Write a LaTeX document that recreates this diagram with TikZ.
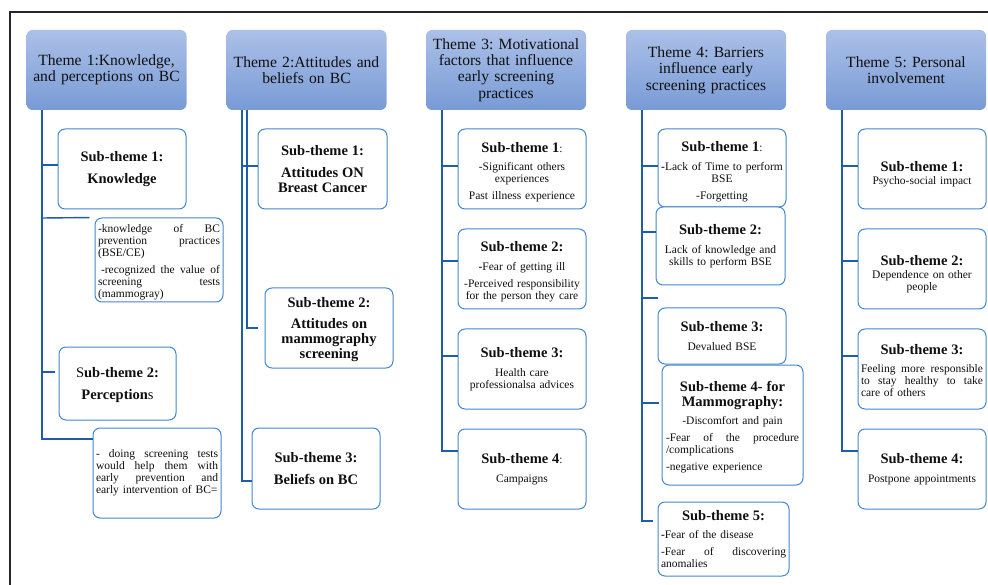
\documentclass[tikz,border=0pt]{standalone}
\usepackage{fontspec}
\setmainfont{Liberation Serif}
\frenchspacing
\definecolor{themetop}{RGB}{172,192,232}
\definecolor{themebot}{RGB}{120,155,213}
\definecolor{subline}{RGB}{66,136,206}
\definecolor{connc}{RGB}{30,94,166}
\definecolor{txt}{RGB}{15,15,15}
\newcommand\bd[1]{{\fontsize{14.5}{15}\selectfont\bfseries #1\par}}
\newcommand\hd[1]{\bd{#1}\vspace{6.5pt}}
\newcommand\hdg[3]{\bd{\rule{0pt}{#1}#3}\vspace{#2}}
\newcommand\sm{\mdseries\fontsize{11.5}{12}\selectfont}
\newcommand\ps{\par\vspace{5pt}}
\newcommand\jl[2][122pt]{\hbox to #1{#2}}
\newcommand\lft[2][122pt]{\hbox to #1{#2\hfil}}
\tikzset{
  theme/.style={rounded corners=6pt, top color=themetop, bottom color=themebot,
    minimum width=160pt, minimum height=80pt, text width=154pt, align=center,
    inner sep=0pt, font=\fontsize{15.6}{16.3}\selectfont, text=txt},
  subbox/.style={draw=subline, line width=1pt, rounded corners=7pt, fill=white,
    inner xsep=3pt, inner ysep=0pt, align=center, text=txt,
    font=\fontsize{11.5}{12}\selectfont,
    execute at begin node={\setlength{\parindent}{0pt}}},
  conn/.style={draw=connc, line width=1.4pt},
  frameline/.style={draw=black!85, line width=1.3pt}
}
\begin{document}
\frenchspacing
\begin{tikzpicture}[x=1pt,y=-1pt]
\useasboundingbox (0,0) rectangle (988,585);
\draw[frameline] (10,585) -- (10,12) -- (988,12);

% themes
\node[theme] (t1) at (106.5,70) {Theme 1:Knowledge,\\ and perceptions on BC};
\node[theme] (t2) at (306.5,70) {Theme 2:Attitudes and\\ beliefs on BC};
\node[theme] (t3) at (506,70) {Theme 3: Motivational\\ factors that influence\\ early screening\\ practices};
\node[theme] (t4) at (706,70) {Theme 4: Barriers\\ influence early\\ screening practices};
\node[theme] (t5) at (906,70) {Theme 5: Personal\\ involvement};

% theme 1
\node[subbox, minimum width=128pt, minimum height=80pt, text width=122pt] (s11) at (122,169)
  {\hd{Sub-theme 1:}\bd{Knowledge}};
\node[subbox, minimum width=128pt, minimum height=84pt, text width=122pt] (s1a) at (159,260)
  {\jl{\rule{0pt}{12pt}-knowledge\hfill of\hfill BC}\par\jl{prevention\hfill practices}\par\lft{(BSE/CE)}\ps
   \jl{\hspace{3pt}-recognized\hfill the\hfill value\hfill of}\par\jl{screening\hfill tests}\par\lft{(mammogray)}};
\node[subbox, minimum width=117pt, minimum height=73pt, text width=111pt] (s12) at (117.5,383.5)
  {\hdg{13pt}{6.5pt}{{\mdseries S}ub-theme 2:}\bd{Perception{\mdseries s}}};
\node[subbox, minimum width=128pt, minimum height=90pt, text width=122pt] (s1b) at (157,473)
  {\jl{-\hfill doing\hfill screening\hfill tests}\par\jl{would\hfill help\hfill them\hfill with}\par
   \jl{early\hfill prevention\hfill and}\par\lft{early intervention of BC=}};

% theme 2
\node[subbox, minimum width=129pt, minimum height=80pt, text width=123pt] (s21) at (322.5,169)
  {\hd{Sub-theme 1:}\bd{Attitudes ON}\bd{Breast Cancer}};
\node[subbox, minimum width=128pt, minimum height=80pt, text width=122pt] (s22) at (329,328)
  {\hdg{13pt}{6.5pt}{Sub-theme 2:}\bd{Attitudes on}\bd{mammography}\bd{screening}};
\node[subbox, minimum width=128pt, minimum height=81pt, text width=122pt] (s23) at (316,468.5)
  {\hd{Sub-theme 3:}\bd{Beliefs on BC}};

% theme 3
\node[subbox, minimum width=128pt, minimum height=80pt, text width=122pt] (s31) at (522,169)
  {\hdg{16pt}{6.5pt}{Sub-theme 1{\sm:}}-Significant others\par experiences\ps Past illness experience};
\node[subbox, minimum width=128pt, minimum height=80pt, text width=122pt] (s32) at (522,269)
  {\hdg{15pt}{6.5pt}{Sub-theme 2:}\textbf{-}Fear of getting ill\ps -Perceived responsibility\par for the person they care};
\node[subbox, minimum width=128pt, minimum height=80pt, text width=122pt] (s33) at (522,369)
  {\hd{Sub-theme 3:}Health care\par professionalsa advices};
\node[subbox, minimum width=128pt, minimum height=80pt, text width=122pt] (s34) at (522,469)
  {\hd{Sub-theme 4{\sm:}}Campaigns};

% theme 4
\node[subbox, minimum width=128pt, minimum height=78pt, text width=122pt] (s41) at (722,168)
  {\hdg{17pt}{6.5pt}{Sub-theme 1{\sm:}}\textbf{-}Lack of Time to perform\par BSE\ps -Forgetting};
\node[subbox, minimum width=129pt, minimum height=78pt, text width=123pt] (s42) at (720.5,246)
  {\hd{Sub-theme 2:}Lack of knowledge and\par skills to perform BSE};
\node[subbox, minimum width=128pt, minimum height=56pt, text width=122pt] (s43) at (722,336)
  {\hd{Sub-theme 3:}Devalued BSE};
\node[subbox, minimum width=141pt, minimum height=120pt, text width=133pt] (s44) at (732.5,425)
  {\bd{\rule{0pt}{14pt}Sub-theme 4- for}\hd{Mammography:}-Discomfort and pain\ps
   \jl[133pt]{-Fear\hfill of\hfill the\hfill procedure}\par\lft[133pt]{/complications}\ps\lft[133pt]{-negative experience}};
\node[subbox, minimum width=131pt, minimum height=74pt, text width=125pt] (s45) at (723.5,539)
  {\hd{Sub-theme 5:}\lft[125pt]{\textbf{-}Fear of the disease}\ps\jl[125pt]{-Fear\hfill of\hfill discovering}\par\lft[125pt]{anomalies}};

% theme 5
\node[subbox, minimum width=128pt, minimum height=80pt, text width=122pt] (s51) at (922,169)
  {\hdg{20pt}{1.5pt}{Sub-theme 1:}Psycho-social impact};
\node[subbox, minimum width=128pt, minimum height=80pt, text width=122pt] (s52) at (922,269)
  {\hdg{21pt}{1pt}{Sub-theme 2:}Dependence on other\par people};
\node[subbox, minimum width=128pt, minimum height=80pt, text width=122pt] (s53) at (922,369)
  {\hdg{13pt}{6.5pt}{Sub-theme 3:}\jl{Feeling\hfill more\hfill responsible}\par\jl{to\hfill stay\hfill healthy\hfill to\hfill take}\par\lft{care of others}};
\node[subbox, minimum width=128pt, minimum height=80pt, text width=122pt] (s54) at (922,469)
  {\hd{Sub-theme 4:}Postpone appointments};

% connectors theme 1
\coordinate (k1) at (42,109);
\draw[conn] (t1.south -| k1) -- (k1 |- 0,439) -- (s1b.west |- 0,439);
\draw[conn] (k1 |- 0,165) -- (s11.west |- 0,165);
\draw[conn, shorten >=5pt] (k1 |- 0,218) -- (s1a.north west);
\draw[conn, shorten >=4pt] (k1 |- 0,372) -- (s12.west |- 0,372);

% connectors theme 2
\coordinate (k2a) at (242,109);
\coordinate (k2b) at (247,109);
\draw[conn] (t2.south -| k2a) -- (k2a |- 0,481) -- (s23.west |- 0,481);
\draw[conn, shorten >=7pt] (t2.south -| k2b) -- (k2b |- s22.west) -- (s22.west);
\draw[conn] (k2a |- 0,166) -- (s21.west |- 0,166);

% connectors theme 3
\coordinate (k3) at (442,109);
\draw[conn] (t3.south -| k3) -- (k3 |- 0,451) -- (s34.west |- 0,451);
\draw[conn] (k3 |- 0,166) -- (s31.west |- 0,166);
\draw[conn] (k3 |- 0,261) -- (s32.west |- 0,261);
\draw[conn] (k3 |- 0,356) -- (s33.west |- 0,356);

% connectors theme 4
\coordinate (k4) at (642,109);
\coordinate (f4) at (658,298);
\draw[conn, shorten >=5pt] (t4.south -| k4) -- (k4 |- 0,521) -- (s45.west |- 0,521);
\draw[conn] (k4 |- 0,166) -- (s41.west |- 0,166);
\draw[conn] (k4 |- 0,232) -- (s42.west |- 0,232);
\draw[conn] (k4 |- f4) -- (f4);
\draw[conn, shorten >=3pt] (k4 |- 0,403) -- (s44.west |- 0,403);

% connectors theme 5
\coordinate (k5) at (842,109);
\draw[conn] (t5.south -| k5) -- (k5 |- 0,451) -- (s54.west |- 0,451);
\draw[conn] (k5 |- 0,166) -- (s51.west |- 0,166);
\draw[conn] (k5 |- 0,261) -- (s52.west |- 0,261);
\draw[conn] (k5 |- 0,356) -- (s53.west |- 0,356);
\end{tikzpicture}
\end{document}
